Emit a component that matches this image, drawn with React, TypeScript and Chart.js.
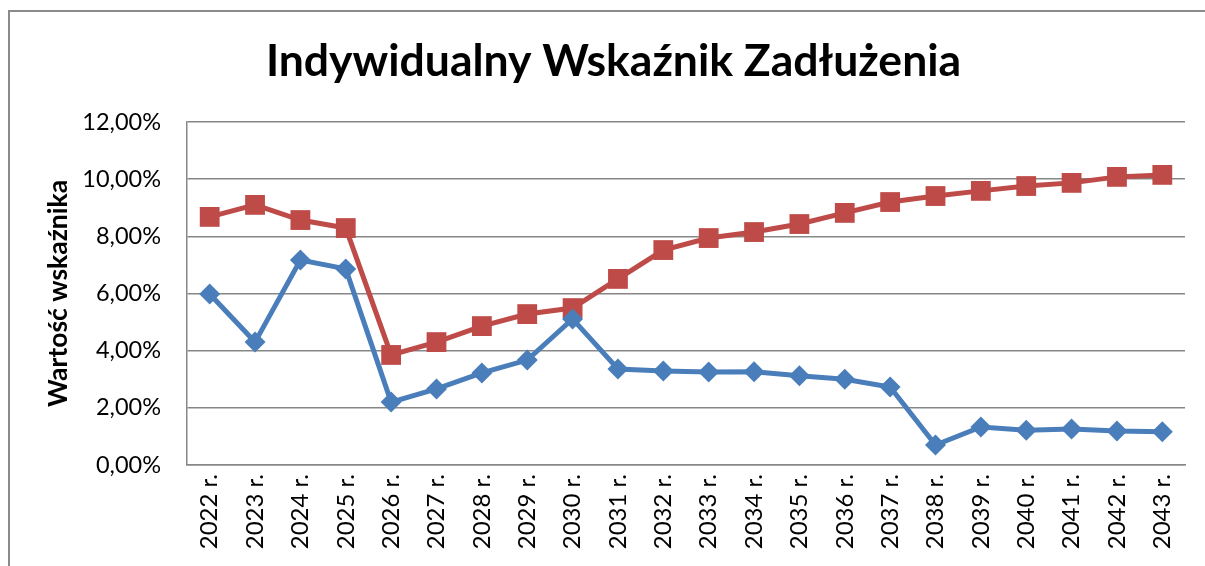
import React, { useEffect, useRef } from "react";
import { Chart, registerables } from "chart.js";

Chart.register(...registerables);

const categories = [
  "2022 r.", "2023 r.", "2024 r.", "2025 r.", "2026 r.", "2027 r.", "2028 r.", "2029 r.",
  "2030 r.", "2031 r.", "2032 r.", "2033 r.", "2034 r.", "2035 r.", "2036 r.", "2037 r.",
  "2038 r.", "2039 r.", "2040 r.", "2041 r.", "2042 r.", "2043 r.",
];

const seriesBlue = [
  5.98, 4.30, 7.17, 6.86, 2.20, 2.66, 3.22, 3.67, 5.11, 3.36, 3.29,
  3.25, 3.26, 3.12, 3.00, 2.73, 0.70, 1.33, 1.22, 1.26, 1.19, 1.16,
];

const seriesRed = [
  8.68, 9.10, 8.57, 8.29, 3.85, 4.30, 4.86, 5.28, 5.49, 6.51, 7.52,
  7.94, 8.15, 8.43, 8.82, 9.20, 9.41, 9.59, 9.76, 9.87, 10.08, 10.15,
];

const yTickValues = [0, 2, 4, 6, 8, 10, 12];

const titleText = "Indywidualny Wskaźnik Zadłużenia";
const yAxisTitle = "Wartość wskaźnika";

const FONT = "Lato";
const GRID = "#878787";

export default function App() {
  const canvasRef = useRef<HTMLCanvasElement | null>(null);

  useEffect(() => {
    const canvas = canvasRef.current;
    if (!canvas) return;
    const chart = new Chart(canvas, {
      type: "line",
      data: {
        labels: categories,
        datasets: [
          {
            label: "Seria 1",
            data: seriesBlue,
            borderColor: "#4A7EBB",
            backgroundColor: "#4A7EBB",
            borderWidth: 5,
            pointStyle: "rectRot",
            pointRadius: 10.5,
            pointBorderWidth: 0,
            pointBackgroundColor: "#4A7EBB",
            tension: 0,
          },
          {
            label: "Seria 2",
            data: seriesRed,
            borderColor: "#BE4B48",
            backgroundColor: "#BE4B48",
            borderWidth: 5,
            pointStyle: "rect",
            pointRadius: 14,
            pointBorderWidth: 0,
            pointBackgroundColor: "#BE4B48",
            tension: 0,
          },
        ],
      },
      options: {
        animation: false,
        responsive: false,
        maintainAspectRatio: false,
        layout: { padding: { left: 32, right: 20, top: 0, bottom: 0 } },
        plugins: {
          legend: { display: false },
          tooltip: { enabled: false },
          title: {
            display: true,
            text: titleText,
            color: "#000000",
            font: { family: FONT, size: 44.5, weight: "bold", lineHeight: 1.2 },
            padding: { top: 23, bottom: 33.6 },
          },
        },
        scales: {
          x: {
            type: "category",
            offset: true,
            grid: { display: false, drawTicks: false },
            border: { display: true, color: GRID, width: 1.5 },
            ticks: {
              color: "#000000",
              font: { family: FONT, size: 24 },
              minRotation: 90,
              maxRotation: 90,
              autoSkip: false,
              padding: 9,
            },
            afterFit: (scale: any) => {
              scale.height = 101;
            },
          },
          y: {
            min: 0,
            max: 12,
            afterBuildTicks: (scale: any) => {
              scale.ticks = yTickValues.map((v) => ({ value: v }));
            },
            grid: { color: GRID, lineWidth: 1.5, drawTicks: false },
            border: { display: true, color: GRID, width: 1.5 },
            ticks: {
              color: "#000000",
              font: { family: FONT, size: 23.5 },
              padding: 26,
              callback: (v: any) => Number(v).toFixed(2).replace(".", ",") + "%",
            },
            title: {
              display: true,
              text: yAxisTitle,
              color: "#000000",
              font: { family: FONT, size: 26.5, weight: "bold" },
              padding: { top: 1, bottom: 0 },
            },
            afterFit: (scale: any) => {
              scale.width = 145;
            },
          },
        },
      },
    });
    return () => chart.destroy();
  }, []);

  return (
    <div
      style={{
        position: "absolute",
        left: 8,
        top: 10,
        width: 1197,
        height: 556,
        borderTop: "2px solid #8a8a8a",
        borderLeft: "2px solid #8a8a8a",
        boxSizing: "border-box",
        background: "#ffffff",
      }}
    >
      <canvas ref={canvasRef} width={1195} height={554} style={{ display: "block" }} />
    </div>
  );
}
